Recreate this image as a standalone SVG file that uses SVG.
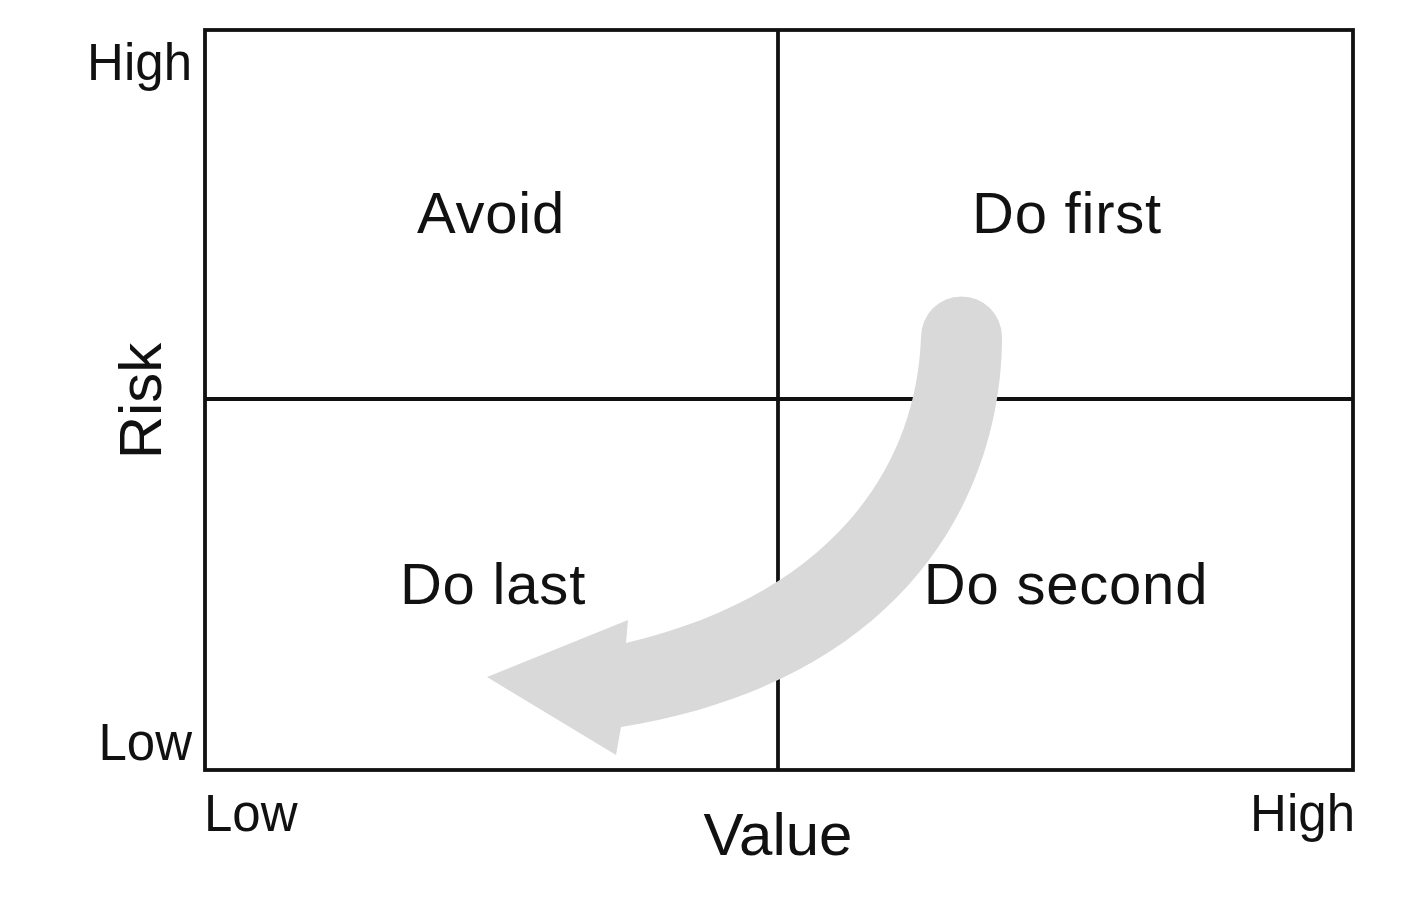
<svg xmlns="http://www.w3.org/2000/svg" width="1426" height="900" viewBox="0 0 1426 900">
  <style>
    .grid { fill: none; stroke: #111; stroke-width: 3.8; }
    .lbl { font-family: "Liberation Sans", Arial, sans-serif; fill: #111; }
    .q { font-size: 58px; text-anchor: middle; letter-spacing: 0.8px; }
    .ax { font-size: 51px; }
    .title { font-size: 60px; text-anchor: middle; }
    .arrow { fill: #d9d9d9; stroke: none; }
  </style>
  <rect width="1426" height="900" fill="#fff"/>
  <g id="grid">
    <rect class="grid" x="205" y="30" width="1148" height="740"/>
    <line class="grid" x1="778" y1="30" x2="778" y2="770"/>
    <line class="grid" x1="205" y1="399" x2="1353" y2="399"/>
  </g>
  <g id="connectors">
    <path class="arrow" d="M 921,337 A 40.5 40.5 0 0 1 1002,337 C 1002,490 910,680 621,727 L 616,755 L 487,677 L 628,620 L 626,643 C 818,598 916,480 921,337 Z"/>
  </g>
  <g id="avoid"><text class="lbl q" x="491" y="233">Avoid</text></g>
  <g id="do-first"><text class="lbl q" x="1067" y="233">Do first</text></g>
  <g id="do-last"><text class="lbl q" x="493" y="604">Do last</text></g>
  <g id="do-second"><text class="lbl q" x="1066" y="604">Do second</text></g>
  <g id="axes">
    <text class="lbl ax" x="192" y="80" text-anchor="end">High</text>
    <text class="lbl ax" x="192" y="760" text-anchor="end">Low</text>
    <text class="lbl ax" x="204" y="831">Low</text>
    <text class="lbl ax" x="1355" y="831" text-anchor="end">High</text>
    <text class="lbl title" x="778" y="855">Value</text>
    <text class="lbl title" transform="translate(161,401) rotate(-90)">Risk</text>
  </g>
</svg>
